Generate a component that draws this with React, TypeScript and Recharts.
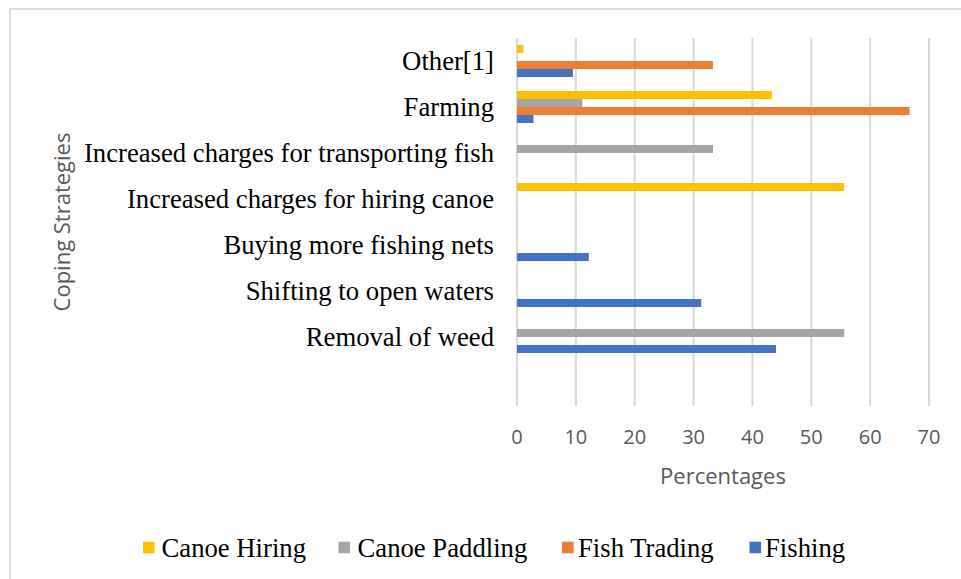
import React from 'react';
import { BarChart, Bar, XAxis, YAxis, CartesianGrid, Legend, Label } from 'recharts';

const categories = [
  'Other[1]',
  'Farming',
  'Increased charges for transporting fish',
  'Increased charges for hiring canoe',
  'Buying more fishing nets',
  'Shifting to open waters',
  'Removal of weed',
  '',
];
const canoeHiring = [1.1, 43.3, null, 55.6, null, null, null, null];
const canoePaddling = [null, 11.1, 33.3, null, null, null, 55.6, null];
const fishTrading = [33.3, 66.7, null, null, null, null, null, null];
const fishing = [9.5, 2.8, null, null, 12.2, 31.3, 44.0, null];

const xTicks = [0, 10, 20, 30, 40, 50, 60, 70];
const seriesNames = ['Canoe Hiring', 'Canoe Paddling', 'Fish Trading', 'Fishing'];
const seriesKeys = ['canoeHiring', 'canoePaddling', 'fishTrading', 'fishing'];
const seriesColors = ['#FFC000', '#A5A5A5', '#ED7D31', '#4472C4'];
const seriesValues = [canoeHiring, canoePaddling, fishTrading, fishing];

const data = categories.map((name, i) => {
  const row: Record<string, any> = { name };
  seriesKeys.forEach((k, s) => {
    row[k] = seriesValues[s][i];
  });
  return row;
});

const legendSquareX = [143, 338.5, 562, 749.5];
const legendTextX = [161.5, 357.5, 578, 765];

const renderLegend = (props: any) => {
  const payload = [...(props.payload || [])].sort(
    (a: any, b: any) => seriesNames.indexOf(a.value) - seriesNames.indexOf(b.value)
  );
  return (
    <svg width={961} height={50} style={{ display: 'block' }}>
      {payload.map((p: any, i: number) => (
        <g key={p.value}>
          <rect x={legendSquareX[i]} y={21.7} width={11.6} height={11.6} fill={p.color} />
          <text
            x={legendTextX[i]}
            y={36.7}
            fontFamily="'Liberation Serif', 'Times New Roman', serif"
            fontSize={26.7}
            fill="#000"
          >
            {p.value}
          </text>
        </g>
      ))}
    </svg>
  );
};

export default function App() {
  return (
    <div
      style={{
        position: 'absolute',
        left: 0,
        top: 0,
        width: 961,
        height: 579,
        overflow: 'hidden',
        background: '#fff',
      }}
    >
      <div
        style={{
          position: 'absolute',
          left: 9,
          top: 8,
          width: 1100,
          height: 800,
          border: '2.5px solid #dcdcdc',
          boxSizing: 'border-box',
        }}
      />
      <div style={{ position: 'absolute', left: 0, top: 0 }}>
        <BarChart
          width={961}
          height={579}
          data={data}
          layout="vertical"
          margin={{ top: 38, right: 32, left: 0, bottom: 73 }}
          barGap={0}
        >
          <CartesianGrid horizontal={false} stroke="#d9d9d9" strokeWidth={2} />
          <XAxis
            type="number"
            domain={[0, 70]}
            ticks={xTicks}
            tickLine={false}
            axisLine={false}
            height={100}
            tickSize={6}
            tickMargin={18}
            tick={{ fontSize: 20, fill: '#595959', fontFamily: "'Open Sans', sans-serif" }}
            interval={0}
          >
            <Label
              value="Percentages"
              position="insideTop"
              offset={62}
              style={{ fontSize: 22, fill: '#595959', fontFamily: "'Open Sans', sans-serif" }}
            />
          </XAxis>
          <YAxis
            type="category"
            dataKey="name"
            width={517}
            tickLine={false}
            axisLine={false}
            tickSize={6}
            tickMargin={17}
            interval={0}
            tick={{ fontSize: 26.7, fill: '#000', fontFamily: "'Liberation Serif', 'Times New Roman', serif" }}
          >
            <Label
              value="Coping Strategies"
              angle={-90}
              position="insideLeft"
              offset={62}
              textAnchor="middle"
              style={{ fontSize: 22, fill: '#595959', fontFamily: "'Open Sans', sans-serif", textAnchor: 'middle' }}
            />
          </YAxis>
          <Legend
            layout="horizontal"
            verticalAlign="middle"
            align="center"
            wrapperStyle={{ left: 0, top: 520, width: 961, height: 50 }}
            content={renderLegend}
          />
          {seriesKeys.map((k, s) => (
            <Bar
              key={k}
              dataKey={k}
              name={seriesNames[s]}
              fill={seriesColors[s]}
              barSize={8}
              isAnimationActive={false}
            />
          ))}
        </BarChart>
      </div>
    </div>
  );
}
